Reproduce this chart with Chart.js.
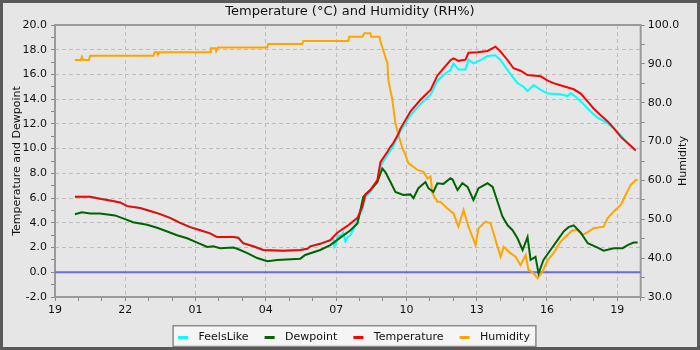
<!DOCTYPE html>
<html>
<head>
<meta charset="utf-8">
<script src="https://cdn.jsdelivr.net/npm/chart.js@4.4.1/dist/chart.umd.min.js"></script>
<style>
html, body { margin: 0; padding: 0; background: #e6e6e6; }
#wrap { width: 694px; height: 344px; border: 3px solid #595959; background: #e6e6e6; }
canvas { display: block; }
</style>
</head>
<body>
<div id="wrap"><canvas id="chartCanvas" width="694" height="344"></canvas></div>
<script>
// x values are hours since 19:00 (first tick), axis runs to 20:00 next day
const startHour = 19;
const xMax = 25;

const tempT = [0.85, 1.50, 1.92, 2.35, 2.78, 3.08, 3.63, 4.06, 4.49, 4.91, 5.34, 5.77, 6.20, 6.62, 6.92, 7.61, 7.82, 8.03, 8.46, 8.89, 9.74, 10.47, 10.77, 10.90, 11.32, 11.75, 12.05, 12.48, 12.91, 13.12, 13.25, 13.46, 13.76, 13.89, 14.19, 14.32, 14.44, 14.66, 14.74, 15.17, 15.60, 16.03, 16.32, 16.58, 16.88, 17.01, 17.22, 17.52, 17.65, 18.03, 18.46, 18.80, 19.02, 19.32, 19.57, 19.87, 20.17, 20.73, 21.03, 21.28, 21.71, 22.14, 22.44, 22.74, 22.99, 23.29, 23.59, 23.85, 24.15, 24.44, 24.79];
const tempV = [6.1, 6.1, 5.95, 5.8, 5.65, 5.35, 5.2, 4.95, 4.7, 4.4, 4.0, 3.65, 3.4, 3.15, 2.85, 2.85, 2.8, 2.35, 2.1, 1.8, 1.75, 1.8, 1.9, 2.1, 2.3, 2.6, 3.2, 3.75, 4.4, 5.3, 6.3, 6.65, 7.45, 8.9, 9.75, 10.15, 10.45, 11.2, 11.6, 13.0, 13.95, 14.75, 15.9, 16.5, 17.15, 17.3, 17.1, 17.2, 17.75, 17.8, 17.9, 18.25, 17.85, 17.15, 16.5, 16.3, 15.95, 15.85, 15.5, 15.3, 15.05, 14.8, 14.45, 13.8, 13.25, 12.7, 12.2, 11.65, 10.95, 10.45, 9.85];

const feelsT = [0.85, 1.50, 1.92, 2.35, 2.78, 3.08, 3.63, 4.06, 4.49, 4.91, 5.34, 5.77, 6.20, 6.62, 6.92, 7.61, 7.82, 8.03, 8.46, 8.89, 9.74, 10.47, 10.77, 10.90, 11.32, 11.75, 11.88, 11.92, 12.00, 12.09, 12.18, 12.30, 12.40, 12.48, 12.61, 12.74, 12.91, 13.12, 13.25, 13.46, 13.76, 13.89, 14.19, 14.44, 14.74, 15.17, 15.60, 16.03, 16.32, 16.67, 16.88, 17.01, 17.22, 17.52, 17.65, 17.86, 18.16, 18.46, 18.80, 19.02, 19.32, 19.53, 19.74, 20.00, 20.17, 20.43, 20.73, 21.03, 21.58, 21.88, 22.01, 22.31, 22.56, 22.86, 23.16, 23.59, 24.02, 24.44, 24.79];
const feelsV = [6.1, 6.1, 5.95, 5.8, 5.65, 5.35, 5.2, 4.95, 4.7, 4.4, 4.0, 3.65, 3.4, 3.15, 2.85, 2.85, 2.8, 2.35, 2.1, 1.8, 1.75, 1.8, 1.9, 2.1, 2.3, 2.6, 2.7, 2.1, 2.4, 3.0, 2.9, 3.2, 2.5, 2.8, 3.0, 3.5, 4.2, 5.1, 6.1, 6.5, 7.3, 8.6, 9.5, 10.2, 11.4, 12.7, 13.6, 14.35, 15.5, 16.1, 16.35, 16.9, 16.4, 16.4, 17.2, 16.9, 17.15, 17.5, 17.55, 17.15, 16.35, 15.8, 15.3, 15.0, 14.65, 15.15, 14.75, 14.45, 14.4, 14.25, 14.5, 14.05, 13.6, 13.0, 12.5, 12.05, 11.35, 10.45, 9.85];

const dewT = [0.85, 1.15, 1.50, 1.92, 2.56, 2.99, 3.33, 3.93, 4.36, 4.79, 5.21, 5.64, 6.07, 6.50, 6.75, 7.05, 7.61, 7.78, 8.21, 8.63, 9.06, 9.49, 10.47, 10.68, 11.32, 11.75, 12.18, 12.61, 12.91, 13.16, 13.46, 13.76, 13.97, 14.10, 14.32, 14.53, 14.87, 15.17, 15.30, 15.51, 15.81, 15.94, 16.15, 16.32, 16.58, 16.88, 16.97, 17.18, 17.39, 17.61, 17.86, 18.08, 18.46, 18.68, 18.89, 19.10, 19.32, 19.53, 19.74, 19.96, 20.17, 20.30, 20.51, 20.64, 20.85, 21.15, 21.45, 21.71, 21.92, 22.14, 22.44, 22.74, 23.16, 23.42, 23.85, 24.23, 24.44, 24.70, 24.87];
const dewV = [4.7, 4.85, 4.75, 4.75, 4.6, 4.3, 4.05, 3.85, 3.6, 3.3, 3.0, 2.75, 2.4, 2.05, 2.1, 1.95, 2.0, 1.9, 1.55, 1.15, 0.9, 1.0, 1.1, 1.4, 1.8, 2.2, 2.8, 3.4, 3.95, 6.1, 6.65, 7.3, 8.4, 8.1, 7.3, 6.5, 6.25, 6.3, 6.0, 6.8, 7.3, 6.8, 6.5, 7.2, 7.15, 7.6, 7.5, 6.65, 7.2, 6.9, 5.85, 6.8, 7.2, 6.9, 5.7, 4.5, 3.8, 3.4, 2.75, 1.8, 2.85, 1.0, 1.25, -0.1, 1.0, 1.8, 2.6, 3.3, 3.65, 3.8, 3.2, 2.35, 2.0, 1.75, 1.95, 1.95, 2.2, 2.4, 2.4];

const humT = [0.85, 1.10, 1.15, 1.20, 1.45, 1.50, 4.20, 4.25, 4.36, 4.40, 4.45, 6.62, 6.65, 6.85, 6.88, 6.95, 9.06, 9.10, 10.55, 10.60, 12.52, 12.56, 13.12, 13.20, 13.46, 13.50, 13.85, 13.89, 14.02, 14.19, 14.23, 14.40, 14.53, 14.66, 14.83, 14.96, 15.09, 15.30, 15.47, 15.73, 15.90, 16.03, 16.11, 16.32, 16.45, 16.75, 17.01, 17.22, 17.44, 17.65, 17.95, 18.08, 18.38, 18.59, 18.72, 18.89, 19.02, 19.15, 19.44, 19.66, 19.87, 20.09, 20.21, 20.43, 20.60, 20.81, 21.03, 21.28, 21.58, 21.88, 22.09, 22.31, 22.52, 22.74, 22.99, 23.42, 23.59, 23.85, 24.15, 24.36, 24.57, 24.79, 24.87];
const humV = [91.0, 91.0, 91.8, 91.0, 91.0, 92.1, 92.1, 93.0, 93.0, 92.3, 93.0, 93.0, 94.0, 94.0, 93.3, 94.2, 94.2, 95.1, 95.1, 95.9, 95.9, 97.0, 97.0, 97.9, 97.9, 97.0, 97.0, 95.8, 93.3, 90.1, 85.8, 80.7, 74.7, 71.7, 68.3, 66.5, 64.4, 63.5, 62.7, 62.2, 60.5, 61.0, 56.7, 54.5, 54.5, 52.8, 51.5, 48.1, 52.4, 48.1, 43.4, 47.7, 49.4, 49.0, 46.4, 42.9, 40.4, 42.9, 41.3, 40.4, 38.2, 40.8, 37.0, 36.1, 34.8, 36.5, 39.5, 41.3, 44.2, 46.0, 47.2, 47.2, 46.0, 46.7, 47.7, 48.1, 50.3, 52.0, 53.7, 56.3, 58.8, 60.1, 60.1];

const zeroT = [0, 25];
const zeroV = [0, 0];

const seriesNames = ['FeelsLike', 'Dewpoint', 'Temperature', 'Humidity'];
const seriesColors = ['#00ffff', '#006400', '#ff0000', '#ffa500'];
const titleText = 'Temperature (°C) and Humidity (RH%)';
const leftTitle = 'Temperature and Dewpoint';
const rightTitle = 'Humidity';

const pts = (t, v) => t.map((x, i) => ({ x: x, y: v[i] }));

// legend marker: blank, 10px bar, gap
const MARK_OFF = 8;
function legendMark(color) {
    const c = document.createElement('canvas');
    c.width = 23; c.height = 3;
    const g = c.getContext('2d');
    g.fillStyle = color; g.fillRect(MARK_OFF, 0, 10, 3);
    return c;
}
const marks = seriesColors.map(legendMark);

const gridCol = '#bdbdbd';
const textCol = '#111';
Chart.defaults.font.family = "'DejaVu Sans', sans-serif";
Chart.defaults.font.size = 11;
Chart.defaults.color = textCol;

const framePlugin = {
    id: 'frame',
    beforeDraw(chart) {
        const ctx = chart.ctx, hb = chart.legend && chart.legend.legendHitBoxes;
        if (hb && hb.length) {
            const first = hb[0], last = hb[hb.length - 1];
            const x0 = first.left + MARK_OFF - 5, x1 = last.left + last.width + 6;
            const y0 = first.top + first.height / 2 - 11.6;
            ctx.save();
            ctx.fillStyle = '#f5f5f5';
            ctx.fillRect(x0, y0, x1 - x0, chart.height - y0);
            ctx.strokeStyle = '#8a8a8a'; ctx.lineWidth = 1.5;
            ctx.strokeRect(x0, y0, x1 - x0, chart.height - y0 - 0.5);
            ctx.restore();
        }
    },
    beforeDatasetsDraw(chart) {
        const a = chart.chartArea, ctx = chart.ctx;
        ctx.save();
        ctx.strokeStyle = '#9a9a9a'; ctx.lineWidth = 2;
        ctx.strokeRect(a.left, a.top, a.right - a.left, a.bottom - a.top);
        ctx.restore();
    },
    afterDraw(chart) {
        const a = chart.chartArea, ctx = chart.ctx;
        ctx.save();
        ctx.translate(chart.width - 14, (a.top + a.bottom) / 2);
        ctx.rotate(-Math.PI / 2);
        ctx.font = "11px 'DejaVu Sans'";
        ctx.fillStyle = textCol; ctx.textAlign = 'center'; ctx.textBaseline = 'middle';
        ctx.fillText(rightTitle, 0, 0);
        ctx.restore();
    }
};

const line = (i, t, v, order, axis) => ({
    label: seriesNames[i], data: pts(t, v), borderColor: seriesColors[i], backgroundColor: seriesColors[i],
    order: order, yAxisID: axis
});

new Chart(document.getElementById('chartCanvas').getContext('2d'), {
    type: 'line',
    data: {
        datasets: [
            line(0, feelsT, feelsV, 3, 'y'),
            line(1, dewT, dewV, 2, 'y'),
            line(2, tempT, tempV, 1, 'y'),
            line(3, humT, humV, 4, 'y1'),
            { label: 'zero', data: pts(zeroT, zeroV), borderColor: '#6a6ae6', backgroundColor: '#6a6ae6', order: 5, yAxisID: 'y' }
        ]
    },
    options: {
        responsive: false, animation: false, events: [],
        elements: { point: { radius: 0 }, line: { borderWidth: 2, tension: 0 } },
        layout: { padding: 0 },
        scales: {
            x: {
                type: 'linear', min: 0, max: xMax,
                afterFit(s) { s.height = 26.8; },
                ticks: { stepSize: 1, autoSkip: false, maxRotation: 0, maxTicksLimit: 100, padding: 3,
                    callback: v => v % 3 === 0 ? String((startHour + v) % 24).padStart(2, '0') : '' },
                grid: { color: c => (c.tick && c.tick.value % 3 === 0 && c.tick.value > 0 && c.tick.value < xMax) ? gridCol : 'transparent',
                    tickColor: '#888', tickLength: 4, tickBorderDash: [] },
                border: { display: false, dash: [4, 3] }
            },
            y: {
                position: 'left', min: -2, max: 20,
                afterFit(s) { s.width = 52; },
                title: { display: true, text: leftTitle, padding: { top: 7.4, bottom: 0 } },
                ticks: { stepSize: 1, autoSkip: false, padding: 4, maxTicksLimit: 100,
                    callback: v => v % 2 === 0 ? v.toFixed(1) : '' },
                grid: { color: c => (c.tick && c.tick.value % 2 === 0 && c.tick.value > -2 && c.tick.value < 20) ? gridCol : 'transparent',
                    tickColor: '#888', tickLength: 4, tickBorderDash: [] },
                border: { display: false, dash: [4, 3] }
            },
            y1: {
                position: 'right', min: 30, max: 100,
                afterFit(s) { s.width = 56.3; },
                ticks: { stepSize: 5, autoSkip: false, padding: 3, maxTicksLimit: 100,
                    callback: v => v % 10 === 0 ? v.toFixed(1) : '' },
                grid: { drawOnChartArea: false, tickColor: '#888', tickLength: 4 },
                border: { display: false }
            }
        },
        plugins: {
            title: { display: true, text: titleText, font: { size: 13, weight: 'normal' }, color: textCol, padding: { top: 1, bottom: 5.4 } },
            legend: {
                position: 'bottom', maxHeight: 23.2,
                labels: {
                    usePointStyle: true, pointStyleWidth: 23, boxHeight: 3, padding: 8, color: textCol,
                    font: { size: 11 },
                    filter: item => item.datasetIndex < seriesNames.length,
                    sort: (a, b) => a.datasetIndex - b.datasetIndex,
                    generateLabels: chart => Chart.defaults.plugins.legend.labels.generateLabels(chart)
                        .map(it => Object.assign(it, { pointStyle: marks[it.datasetIndex] || it.pointStyle }))
                }
            },
            tooltip: { enabled: false }
        }
    },
    plugins: [framePlugin]
});
</script>
</body>
</html>
